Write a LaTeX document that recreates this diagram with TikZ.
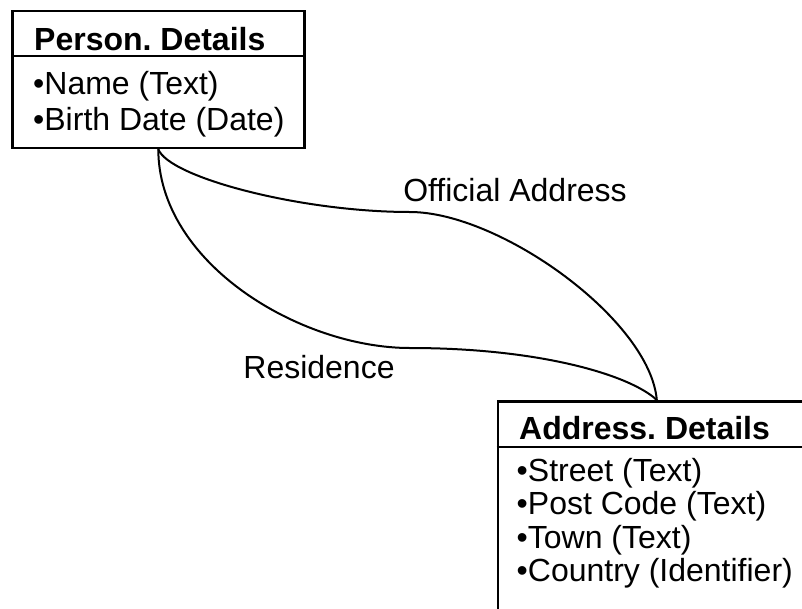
\documentclass[tikz,border=0pt]{standalone}
\usepackage{fontspec}
\setmainfont{Liberation Sans}
\frenchspacing
\begin{document}
\begin{tikzpicture}[x=1pt,y=-1pt,
  box/.style={draw=black, line width=2.6pt, fill=white, inner sep=0pt},
  divider/.style={draw=black, line width=2.6pt},
  head/.style={font=\fontsize{32}{36}\selectfont\bfseries, inner sep=0pt},
  item/.style={font=\fontsize{32}{36}\selectfont, inner sep=0pt},
  rel/.style={font=\fontsize{32}{36}\selectfont, inner sep=0pt},
  link/.style={draw=black, line width=2pt}]
\useasboundingbox (0,0) rectangle (802,608);
\clip (0,0) rectangle (802,608);

% entity boxes
\node[box, minimum width=292pt, minimum height=137pt, anchor=north west] (person) at (11,9.5) {};
\node[box, minimum width=318pt, minimum height=225pt, anchor=north west] (address) at (496.5,400) {};

% header separators
\draw[divider] (person.west |- 0,56) -- (person.east |- 0,56);
\draw[divider] (address.west |- 0,447) -- (address.east |- 0,447);

% Person entity
\node[head, anchor=base west] (ptitle) at (34,50) {Person. Details};
\node[item, anchor=base west] (pname) at (33,94) {•Name (Text)};
\node[item, anchor=base west] (pbirth) at (33,130) {•Birth Date (Date)};

% Address entity
\node[head, anchor=base west] (atitle) at (519,439) {Address. Details};
\node[item, anchor=base west] (astreet) at (516.5,481) {•Street (Text)};
\node[item, anchor=base west] (apost) at (516.5,514.5) {•Post Code (Text)};
\node[item, anchor=base west] (atown) at (516.5,548) {•Town (Text)};
\node[item, anchor=base west] (acountry) at (516.5,581.5) {•Country (Identifier)};

% relationship curves
\coordinate (offmid) at (410,212);
\coordinate (resmid) at (410,348);
\draw[link] (person.south) .. controls +(10,28) and (300,212) .. (offmid)
            .. controls (500,212) and (650,320) .. (address.north);
\draw[link] (person.south) .. controls +(0,114) and (300,348) .. (resmid)
            .. controls (540,348) and (630,375) .. (address.north);

% relationship labels
\node[rel] (loff) at (515,190) {Official Address};
\node[rel] (lres) at (319,367) {Residence};
\end{tikzpicture}
\end{document}
